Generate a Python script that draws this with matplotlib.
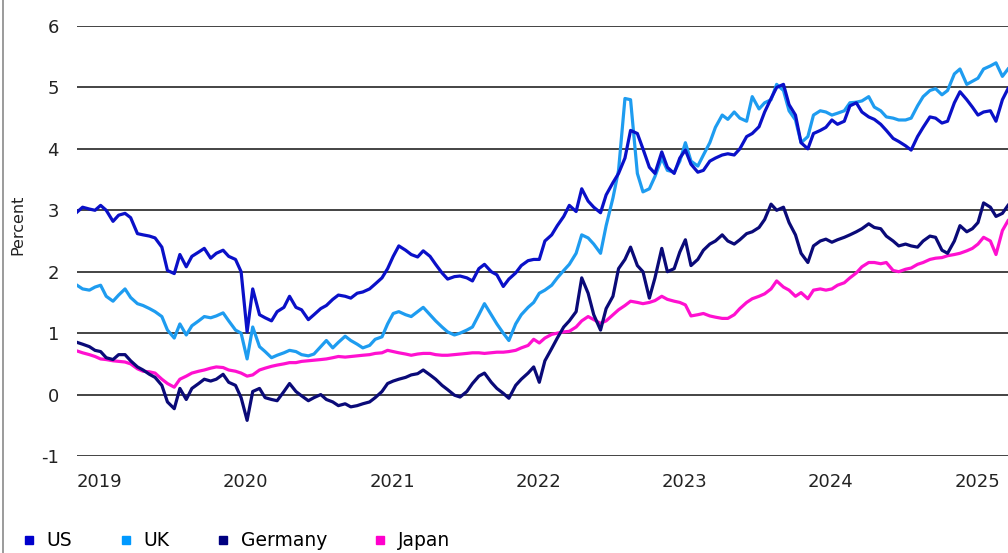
import pandas as pd
import matplotlib
matplotlib.use('Agg')
import matplotlib.pyplot as plt
from matplotlib.lines import Line2D

# semi-monthly observations, 30-year government bond yields (percent)
dates = pd.date_range('2019-01-01', '2025-05-15', freq='SMS')

us = [2.97, 3.05, 3.02, 3.00, 3.08, 3.00, 2.82, 2.92, 2.95, 2.88, 2.62, 2.60,
      2.58, 2.55, 2.40, 2.02, 1.97, 2.28, 2.08, 2.25, 2.32, 2.38, 2.22, 2.30,
      2.35, 2.25, 2.20, 2.00, 1.02, 1.72, 1.30, 1.25, 1.20, 1.35, 1.42, 1.60,
      1.42, 1.38, 1.22, 1.30, 1.40, 1.45, 1.55, 1.62, 1.60, 1.57, 1.65, 1.67,
      1.72, 1.80, 1.90, 2.05, 2.25, 2.42, 2.35, 2.28, 2.24, 2.34, 2.25, 2.12,
      1.98, 1.88, 1.92, 1.93, 1.90, 1.85, 2.05, 2.12, 2.00, 1.95, 1.76, 1.88,
      1.98, 2.10, 2.18, 2.20, 2.20, 2.50, 2.60, 2.75, 2.90, 3.08, 2.98, 3.35,
      3.15, 3.05, 2.96, 3.25, 3.45, 3.60, 3.85, 4.30, 4.25, 4.00, 3.70, 3.60,
      3.95, 3.70, 3.60, 3.85, 3.98, 3.75, 3.62, 3.65, 3.80, 3.85, 3.90, 3.92,
      3.90, 4.00, 4.20, 4.25, 4.36, 4.60, 4.82, 5.00, 5.05, 4.72, 4.55, 4.10,
      4.00, 4.25, 4.30, 4.35, 4.47, 4.40, 4.45, 4.70, 4.75, 4.60, 4.52, 4.48,
      4.40, 4.30, 4.17, 4.12, 4.05, 3.98, 4.20, 4.35, 4.52, 4.50, 4.42, 4.45,
      4.75, 4.93, 4.80, 4.68, 4.55, 4.60, 4.62, 4.45, 4.80, 4.98]

uk = [1.78, 1.72, 1.70, 1.75, 1.78, 1.60, 1.52, 1.62, 1.72, 1.58, 1.48, 1.45,
      1.40, 1.35, 1.27, 1.05, 0.92, 1.15, 0.97, 1.12, 1.20, 1.27, 1.25, 1.28,
      1.33, 1.20, 1.05, 1.00, 0.58, 1.10, 0.78, 0.70, 0.60, 0.64, 0.68, 0.72,
      0.70, 0.65, 0.63, 0.66, 0.78, 0.88, 0.76, 0.85, 0.95, 0.88, 0.82, 0.76,
      0.80, 0.90, 0.94, 1.15, 1.32, 1.35, 1.30, 1.27, 1.35, 1.42, 1.30, 1.20,
      1.10, 1.02, 0.97, 1.00, 1.05, 1.10, 1.30, 1.48, 1.30, 1.15, 1.00, 0.88,
      1.15, 1.30, 1.42, 1.50, 1.65, 1.70, 1.78, 1.90, 2.02, 2.12, 2.30, 2.60,
      2.55, 2.45, 2.30, 2.75, 3.20, 3.65, 4.82, 4.80, 3.60, 3.30, 3.35, 3.55,
      3.85, 3.65, 3.62, 3.80, 4.10, 3.80, 3.72, 3.90, 4.10, 4.35, 4.55, 4.48,
      4.60, 4.50, 4.45, 4.85, 4.65, 4.75, 4.80, 5.05, 4.95, 4.62, 4.47, 4.10,
      4.20, 4.55, 4.62, 4.60, 4.55, 4.58, 4.62, 4.75, 4.76, 4.78, 4.85, 4.68,
      4.62, 4.52, 4.50, 4.47, 4.47, 4.50, 4.70, 4.85, 4.95, 4.98, 4.88, 4.95,
      5.22, 5.30, 5.05, 5.10, 5.15, 5.30, 5.35, 5.40, 5.18, 5.30]

germany = [0.85, 0.82, 0.78, 0.72, 0.70, 0.60, 0.57, 0.65, 0.65, 0.55, 0.45, 0.40,
           0.33, 0.28, 0.15, -0.12, -0.23, 0.10, -0.08, 0.10, 0.18, 0.25, 0.22, 0.25,
           0.33, 0.20, 0.15, -0.05, -0.42, 0.05, 0.10, -0.05, -0.08, -0.10, 0.05, 0.18,
           0.05, -0.02, -0.10, -0.05, 0.00, -0.08, -0.12, -0.18, -0.15, -0.20, -0.18, -0.15,
           -0.12, -0.05, 0.05, 0.18, 0.22, 0.25, 0.28, 0.32, 0.34, 0.40, 0.32, 0.25,
           0.15, 0.08, -0.01, -0.04, 0.05, 0.18, 0.30, 0.35, 0.20, 0.10, 0.02, -0.06,
           0.15, 0.25, 0.35, 0.45, 0.20, 0.55, 0.75, 0.92, 1.10, 1.20, 1.35, 1.90,
           1.65, 1.30, 1.05, 1.40, 1.60, 2.05, 2.20, 2.40, 2.10, 2.00, 1.57, 1.90,
           2.38, 2.00, 2.05, 2.32, 2.52, 2.10, 2.20, 2.35, 2.45, 2.50, 2.60, 2.50,
           2.45, 2.52, 2.62, 2.65, 2.72, 2.85, 3.10, 3.00, 3.05, 2.80, 2.60, 2.30,
           2.15, 2.42, 2.50, 2.53, 2.48, 2.52, 2.56, 2.60, 2.65, 2.70, 2.78, 2.72,
           2.70, 2.58, 2.50, 2.42, 2.45, 2.42, 2.40, 2.50, 2.58, 2.56, 2.35, 2.30,
           2.50, 2.75, 2.65, 2.70, 2.80, 3.12, 3.05, 2.90, 2.95, 3.08]

japan = [0.71, 0.68, 0.65, 0.62, 0.58, 0.57, 0.55, 0.54, 0.53, 0.50, 0.42, 0.38,
         0.37, 0.35, 0.25, 0.18, 0.12, 0.25, 0.30, 0.35, 0.38, 0.40, 0.43, 0.45,
         0.44, 0.40, 0.38, 0.35, 0.30, 0.32, 0.40, 0.43, 0.46, 0.48, 0.50, 0.52,
         0.52, 0.54, 0.55, 0.56, 0.57, 0.58, 0.60, 0.62, 0.61, 0.62, 0.63, 0.64,
         0.65, 0.67, 0.68, 0.72, 0.70, 0.68, 0.66, 0.64, 0.66, 0.67, 0.67, 0.65,
         0.64, 0.64, 0.65, 0.66, 0.67, 0.68, 0.68, 0.67, 0.68, 0.69, 0.69, 0.70,
         0.72, 0.76, 0.80, 0.90, 0.84, 0.92, 0.98, 1.00, 1.02, 1.03, 1.10, 1.20,
         1.27, 1.22, 1.16, 1.20, 1.30, 1.38, 1.45, 1.52, 1.50, 1.48, 1.50, 1.53,
         1.60, 1.55, 1.52, 1.50, 1.46, 1.28, 1.30, 1.32, 1.28, 1.26, 1.24, 1.24,
         1.30, 1.40, 1.50, 1.56, 1.60, 1.64, 1.72, 1.85, 1.75, 1.70, 1.60, 1.66,
         1.56, 1.70, 1.72, 1.70, 1.72, 1.78, 1.82, 1.90, 1.98, 2.08, 2.15, 2.15,
         2.13, 2.15, 2.02, 2.00, 2.04, 2.06, 2.12, 2.15, 2.20, 2.22, 2.23, 2.26,
         2.28, 2.30, 2.34, 2.38, 2.45, 2.56, 2.50, 2.28, 2.67, 2.83]

names = ['US', 'UK', 'Germany', 'Japan']
colors = {'US': '#0a10c8', 'UK': '#1e9cf0', 'Germany': '#0a0a78', 'Japan': '#ff10d0'}
legend_colors = {'US': '#0000cc', 'UK': '#0099ff', 'Germany': '#000080', 'Japan': '#ff00cc'}
yticks = [-1, 0, 1, 2, 3, 4, 5, 6]
years = ['2019', '2020', '2021', '2022', '2023', '2024', '2025']

df = pd.DataFrame({'US': us, 'UK': uk, 'Germany': germany, 'Japan': japan}, index=dates)

plt.rcParams['font.family'] = ['DejaVu Sans']
fig = plt.figure(figsize=(10.08, 5.53), dpi=100)
ax = fig.add_axes([77 / 1008, 1 - 456 / 553, 931 / 1008, 430 / 553])

for y in yticks:
    ax.axhline(y, color='#111111', lw=1.1, zorder=1)

for name in ['Japan', 'Germany', 'UK', 'US']:
    ax.plot(df.index, df[name], color=colors[name], lw=2.3, zorder=3)

ax.set_ylim(-1, 6)
ax.set_xlim(pd.Timestamp('2019-01-01'), pd.Timestamp('2025-05-15'))
ax.set_yticks(yticks)
ax.set_yticklabels([str(v) for v in yticks], fontsize=13, color='#222222')
ax.set_xticks([pd.Timestamp(y + '-01-01') for y in years])
ax.set_xticklabels(years, fontsize=13, color='#222222', ha='left')
ax.tick_params(axis='y', length=0, pad=13)
ax.tick_params(axis='x', length=0, pad=12)
for s in ax.spines.values():
    s.set_visible(False)

fig.text(18 / 1008, 1 - 225 / 553, 'Percent', rotation=90, ha='center', va='center',
         fontsize=11.5, color='#222222')

# thin frame line on the left edge
fig.add_artist(Line2D([3 / 1008, 3 / 1008], [0, 1], color='#8a8a8a', lw=1.2))

handles = [Line2D([], [], ls='none', marker='s', markersize=6,
                  markerfacecolor=legend_colors[n], markeredgecolor=legend_colors[n])
           for n in names]
fig.legend(handles, names, loc='center left', bbox_to_anchor=(23 / 1008, 1 - 541 / 553),
           ncol=4, frameon=False, fontsize=13.5, handlelength=0.6, handletextpad=0.65,
           columnspacing=2.55, borderpad=0, borderaxespad=0)

fig.savefig('out.png', dpi=100)
